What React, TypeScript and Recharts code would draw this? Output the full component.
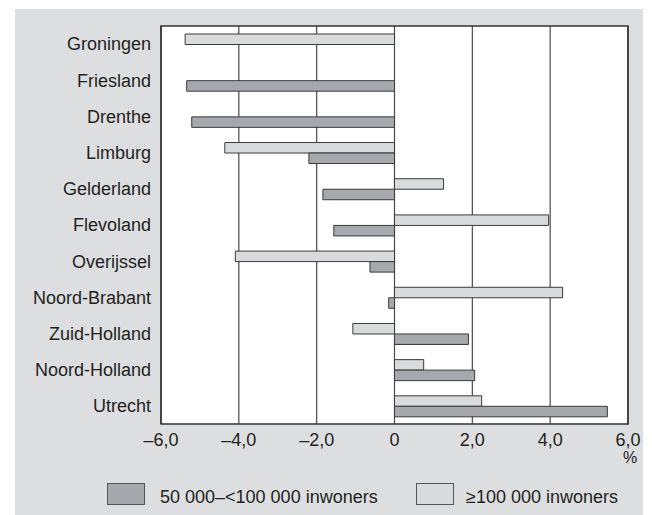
import { BarChart, Bar, XAxis, YAxis, CartesianGrid, ReferenceArea } from 'recharts';

const provinces = [
  'Groningen', 'Friesland', 'Drenthe', 'Limburg', 'Gelderland', 'Flevoland',
  'Overijssel', 'Noord-Brabant', 'Zuid-Holland', 'Noord-Holland', 'Utrecht',
];
// ≥100 000 inwoners
const largeCities = [-5.38, 0, 0, -4.36, 1.26, 3.96, -4.09, 4.32, -1.07, 0.75, 2.24];
// 50 000–<100 000 inwoners
const midCities = [0, -5.34, -5.21, -2.2, -1.84, -1.56, -0.63, -0.15, 1.9, 2.06, 5.47];
const xTicks = [-6, -4, -2, 0, 2, 4, 6];

const data = provinces.map((name, i) => ({
  name,
  large: largeCities[i],
  mid: midCities[i],
}));

const FONT = '"Liberation Sans", Arial, sans-serif';
const TEXT = '#231f20';
const DARK = '#a7a8ab';
const LIGHT = '#d9dadc';
const BG = '#dddee0';

const fmt = (v: number) =>
  v === 0 ? '0' : (v < 0 ? '\u2013' : '') + Math.abs(v).toFixed(1).replace('.', ',');

const XTick = (props: any) => {
  const { x, y, payload } = props;
  return (
    <g>
      <text x={x} y={y + 7} dy="0.71em" textAnchor="middle" fill={TEXT} fontSize={18} fontFamily={FONT}>
        {fmt(payload.value)}
      </text>
      {payload.value === 6 && (
        <text x={x + 2} y={y + 26} dy="0.71em" textAnchor="middle" fill={TEXT} fontSize={16} fontFamily={FONT}>
          %
        </text>
      )}
    </g>
  );
};

export default function App() {
  return (
    <div style={{ position: 'relative', width: 652, height: 515, fontFamily: FONT }}>
      <style>{'body{margin:0}'}</style>
      <div style={{ position: 'absolute', left: 15, top: 9, width: 628, height: 506, background: BG }} />
      <div style={{ position: 'absolute', left: 0, top: 0 }}>
        <BarChart
          width={652}
          height={515}
          data={data}
          layout="vertical"
          margin={{ top: 26, right: 24, left: 15, bottom: 61 }}
          barGap={0}
          barSize={10.5}
        >
          <CartesianGrid horizontal={false} vertical stroke="#4a4a4a" strokeWidth={1.2} fill="#ffffff" fillOpacity={1} />
          <XAxis
            type="number"
            domain={[-6, 6]}
            ticks={xTicks}
            height={30}
            axisLine={false}
            tickLine={false}
            tickSize={0}
            tick={<XTick />}
            interval={0}
          />
          <YAxis
            type="category"
            dataKey="name"
            width={146}
            axisLine={false}
            tickLine={false}
            tickSize={0}
            tickMargin={10}
            interval={0}
            tick={{ fill: TEXT, fontSize: 18, fontFamily: FONT }}
          />
          <Bar dataKey="large" fill={LIGHT} stroke="#3a3a3a" strokeWidth={1} isAnimationActive={false} />
          <Bar dataKey="mid" fill={DARK} stroke="#3a3a3a" strokeWidth={1} isAnimationActive={false} />
          <ReferenceArea x1={-6} x2={6} fill="none" stroke="#333" strokeWidth={1.6} ifOverflow="visible" />
        </BarChart>
      </div>
      <div style={{ position: 'absolute', left: 107, top: 483, width: 38, height: 22, background: DARK, border: '1px solid #555', boxSizing: 'border-box' }} />
      <div style={{ position: 'absolute', left: 160, top: 486, fontSize: 18, color: TEXT, lineHeight: '22px', whiteSpace: 'nowrap' }}>
        50 000–&lt;100 000 inwoners
      </div>
      <div style={{ position: 'absolute', left: 416, top: 483, width: 38, height: 22, background: LIGHT, border: '1px solid #555', boxSizing: 'border-box' }} />
      <div style={{ position: 'absolute', left: 466, top: 486, fontSize: 18, color: TEXT, lineHeight: '22px', whiteSpace: 'nowrap' }}>
        ≥100 000 inwoners
      </div>
    </div>
  );
}
